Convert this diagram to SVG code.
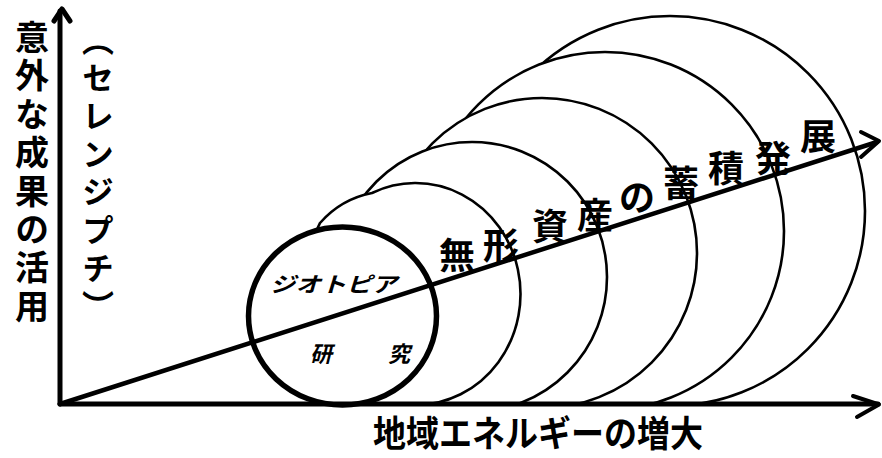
<svg xmlns="http://www.w3.org/2000/svg" width="882" height="458" viewBox="0 0 882 458">
<style>
.c{fill:#fff;stroke:#000;stroke-width:2.6}
.b{fill:#fff;stroke:#000;stroke-width:5.5}
.ln{fill:none;stroke:#000;stroke-linecap:round;stroke-linejoin:round}
.t{font-family:"Noto Sans CJK JP","Noto Sans CJK SC",sans-serif;fill:#000}
.v{writing-mode:vertical-rl;font-weight:700}
.d{font-size:36px;font-weight:700;text-anchor:middle}
.i{font-style:italic;font-weight:700}
</style>
<defs>
<clipPath id="above"><rect x="0" y="0" width="882" height="404"/></clipPath>
</defs>
<g id="rings" clip-path="url(#above)">
<g id="ring6"><circle class="c" cx="670" cy="211" r="195"/></g>
<g id="ring5"><circle class="c" cx="605" cy="231" r="179"/></g>
<g id="ring4"><circle class="c" cx="542" cy="253" r="155"/></g>
<g id="ring3"><circle class="c" cx="472" cy="277" r="135"/></g>
<g id="ring2"><path class="c" d="M372,193 A105,111 0 1 1 418,405 L418,430 L340,430 L340,330 L312,240 L320,223 Q341,199 372,193 Z"/></g>
</g>
<g id="geotopia">
<ellipse class="b" cx="342.5" cy="316" rx="94" ry="89"/>
</g>
<g id="connectors">
<path class="ln" stroke-width="5" d="M60,404 L878,404"/>
<path class="ln" stroke-width="4" d="M853,396 L879,404.5 L857,417"/>
<path class="ln" stroke-width="5" d="M60,404 L60,11"/>
<path class="ln" stroke-width="5" d="M54,21 L62,9 L70,21"/>
<path class="ln" stroke-width="4.5" d="M60,404 L877,142"/>
<path class="ln" stroke-width="4" d="M861,132 L879,141 L861,157"/>
</g>
<g id="labels">
<text class="t v" x="32" y="20" font-size="34" letter-spacing="4.4">意外な成果の活用</text>
<text class="t v" x="98" y="24" font-size="32" letter-spacing="6">（セレンジプチ）</text>
<text class="t" x="373" y="447" font-size="36" font-weight="700" textLength="330" lengthAdjust="spacingAndGlyphs">地域エネルギーの増大</text>
<text class="t i" x="270" y="292" font-size="21" textLength="127" lengthAdjust="spacingAndGlyphs">ジオトピア</text>
<text class="t i" x="310" y="362" font-size="22">研</text>
<text class="t i" x="388" y="362" font-size="22">究</text>
<g id="diag-label" class="t d">
<text x="457" y="269">無</text>
<text x="501" y="259">形</text>
<text x="550" y="240">資</text>
<text x="595" y="229">産</text>
<text x="637" y="211">の</text>
<text x="681" y="197">蓄</text>
<text x="726" y="182">積</text>
<text x="773" y="172">発</text>
<text x="818" y="150">展</text>
</g>
</g>
</svg>
